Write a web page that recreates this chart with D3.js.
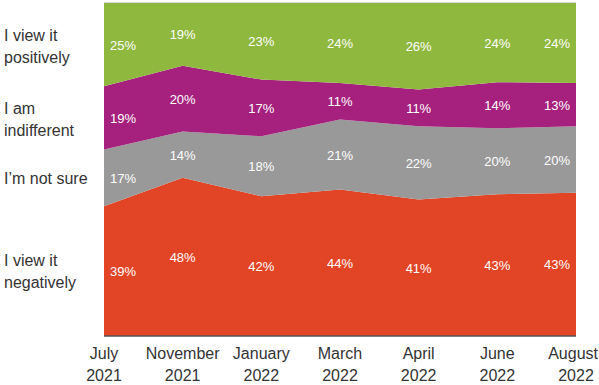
<!DOCTYPE html>
<html>
<head>
<meta charset="utf-8">
<script src="https://cdn.jsdelivr.net/npm/d3@7"></script>
<style>
  html, body { margin: 0; padding: 0; background: #fff; }
  svg { display: block; font-family: "Liberation Sans", Arial, sans-serif; }
</style>
</head>
<body>
<svg id="chart" width="599" height="385"></svg>
<script>
const periods = [["July","2021"],["November","2021"],["January","2022"],["March","2022"],["April","2022"],["June","2022"],["August","2022"]];
const negatively = [39, 48, 42, 44, 41, 43, 43];
const notSure    = [17, 14, 18, 21, 22, 20, 20];
const indifferent= [19, 20, 17, 11, 11, 14, 13];
const positively = [25, 19, 23, 24, 26, 24, 24];
const seriesNames = ["negatively","notSure","indifferent","positively"];
const seriesLabels = [["I view it","negatively"],["I’m not sure"],["I am","indifferent"],["I view it","positively"]];
const colors = ["#e24426", "#999999", "#a5217d", "#8fb83f"];

(function () {
const svg = d3.select("#chart");
const W = 599;
const pLeft = 104, pRight = 576, pTop = 3, pBottom = 336;

const rows = periods.map((p, i) => ({
  i,
  negatively: negatively[i], notSure: notSure[i],
  indifferent: indifferent[i], positively: positively[i]
}));

const stack = d3.stack().keys(seriesNames).offset(d3.stackOffsetExpand);
const layers = stack(rows);

const x = d3.scalePoint().domain(d3.range(periods.length)).range([pLeft, pRight]);
const y = d3.scaleLinear().domain([0, 1]).range([pBottom, pTop]);

const area = d3.area().x(d => x(d.data.i)).y0(d => y(d[0])).y1(d => y(d[1]));

svg.append("g").selectAll("path").data(layers).join("path")
  .attr("d", area).attr("fill", (d, i) => colors[i]);

svg.append("line").attr("x1", pLeft).attr("x2", pRight).attr("y1", pTop - 0.5).attr("y2", pTop - 0.5)
  .attr("stroke", "#d8d8d8").attr("stroke-width", 1);
svg.append("line").attr("x1", pLeft).attr("x2", pRight).attr("y1", pBottom).attr("y2", pBottom)
  .attr("stroke", "#555").attr("stroke-width", 1.5);

const raw = [negatively, notSure, indifferent, positively];
layers.forEach((layer, si) => {
  svg.append("g").selectAll("text").data(layer).join("text")
    .attr("x", d => {
      const i = d.data.i;
      if (i === 0) return x(i) + 19;
      if (i === periods.length - 1) return x(i) - 19;
      return x(i);
    })
    .attr("y", d => y((d[0] + d[1]) / 2) + 5)
    .attr("text-anchor", "middle")
    .attr("fill", "#fff")
    .attr("font-size", 13)
    .text(d => raw[si][d.data.i] + "%");
});

const labelCenters = [271, 178, 119, 46];
seriesLabels.forEach((lines, si) => {
  const n = lines.length;
  const t = svg.append("text").attr("fill", "#333").attr("font-size", 16);
  lines.forEach((ln, k) => {
    t.append("tspan").attr("x", 4)
      .attr("y", labelCenters[si] + (k - (n - 1) / 2) * 22 + 6)
      .text(ln);
  });
});

const xa = svg.append("g");
periods.forEach((p, i) => {
  const t = xa.append("text").attr("fill", "#333").attr("font-size", 16).attr("text-anchor", "middle");
  const s1 = t.append("tspan").attr("x", x(i)).attr("y", 359).text(p[0]);
  const s2 = t.append("tspan").attr("x", x(i)).attr("y", 381).text(p[1]);
  [s1, s2].forEach(s => {
    const w = s.node().getComputedTextLength();
    const cx = Math.min(x(i), W - 1 - w / 2);
    s.attr("x", cx);
  });
});
})();
</script>
</body>
</html>
